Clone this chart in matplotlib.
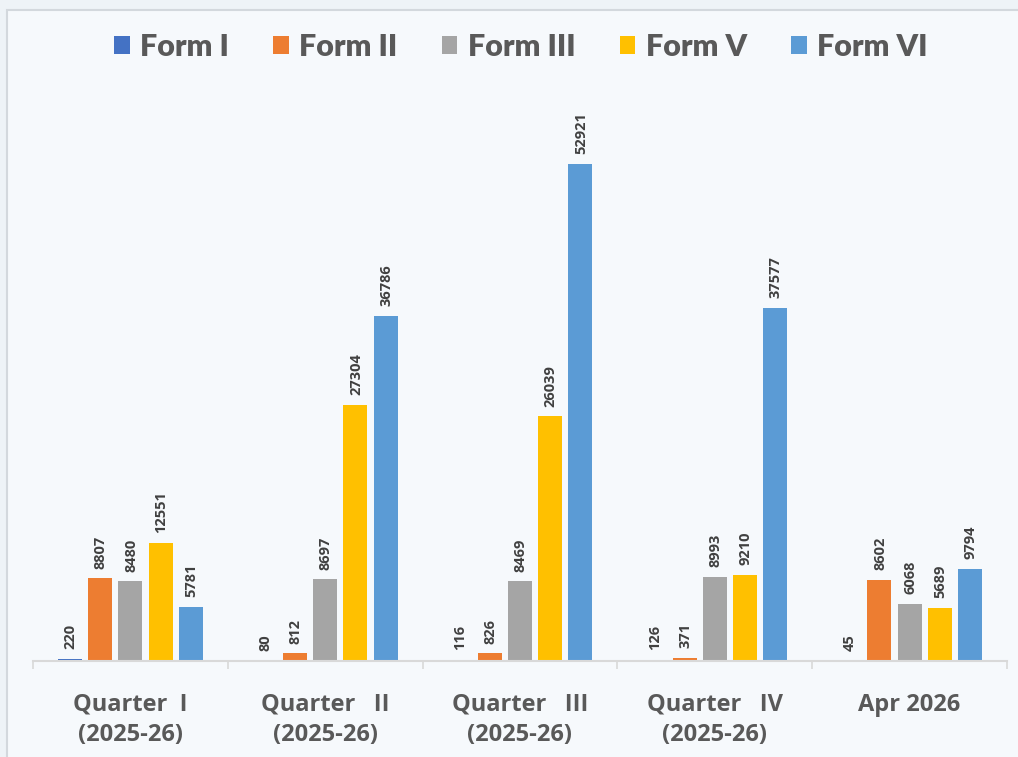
import numpy as np
import matplotlib
matplotlib.use("Agg")
import matplotlib.pyplot as plt
from matplotlib.patches import Rectangle

# data
categories = ["Quarter  I\n(2025-26)", "Quarter   II\n(2025-26)", "Quarter   III\n(2025-26)",
              "Quarter   IV\n(2025-26)", "Apr 2026"]
series_names = ["Form I", "Form II", "Form III", "Form V", "Form VI"]
form_1 = [220, 80, 116, 126, 45]
form_2 = [8807, 812, 826, 371, 8602]
form_3 = [8480, 8697, 8469, 8993, 6068]
form_5 = [12551, 27304, 26039, 9210, 5689]
form_6 = [5781, 36786, 52921, 37577, 9794]
colors = ["#4472C4", "#ED7D31", "#A5A5A5", "#FFC000", "#5B9BD5"]

series = [form_1, form_2, form_3, form_5, form_6]

W, H = 1018, 757
fig = plt.figure(figsize=(W / 100, H / 100), dpi=100, facecolor="#eef3f7")

# panel with light border (left + top visible)
fig.patches.append(Rectangle((7 / W, -0.1), 1.2, 1 - 10 / H + 0.1, transform=fig.transFigure,
                             facecolor="#f6f9fc", edgecolor="#d3d8dd", linewidth=1.5, zorder=-1))

ax = fig.add_axes([33 / W, 96 / H, 974 / W, (661 - 97.5) / H])
ax.set_facecolor("none")

x = np.arange(len(categories))
pitch = 0.155
width = 0.123
for i, (name, vals, c) in enumerate(zip(series_names, series, colors)):
    pos = x + (i - 2) * pitch
    ax.bar(pos, vals, width, color=c, label=name, zorder=2)
    for px, v in zip(pos, vals):
        ax.annotate(str(v), (px, v), xytext=(0.5, 7), textcoords="offset points",
                    rotation=90, ha="center", va="bottom", fontsize=10.5,
                    fontfamily="Open Sans", fontweight="bold", color="#404040")

ax.set_xlim(-0.5, len(categories) - 0.5)
ax.set_ylim(0, 60000)

for s in ["top", "right", "left"]:
    ax.spines[s].set_visible(False)
ax.spines["bottom"].set_color("#d9d9d9")
ax.spines["bottom"].set_linewidth(1.5)
ax.set_yticks([])

ax.set_xticks(x)
ax.set_xticklabels(categories, fontsize=17, fontfamily="Open Sans", fontweight="bold",
                   color="#595959", linespacing=1.35)
ax.tick_params(axis="x", which="major", length=0, pad=23)
ax.set_xticks(np.arange(-0.5, len(categories)), minor=True)
ax.tick_params(axis="x", which="minor", length=6, color="#d9d9d9", width=1.2)

leg = ax.legend(loc="center", bbox_to_anchor=(521 / W, 1 - 47 / H), bbox_transform=fig.transFigure,
                ncol=5, frameon=False, handlelength=0.5, handleheight=0.5, handletextpad=0.35,
                columnspacing=1.45, prop={"family": "Lato", "weight": "heavy", "size": 22})
for t in leg.get_texts():
    t.set_color("#595959")

fig.savefig("out.png", dpi=100, facecolor=fig.get_facecolor())
